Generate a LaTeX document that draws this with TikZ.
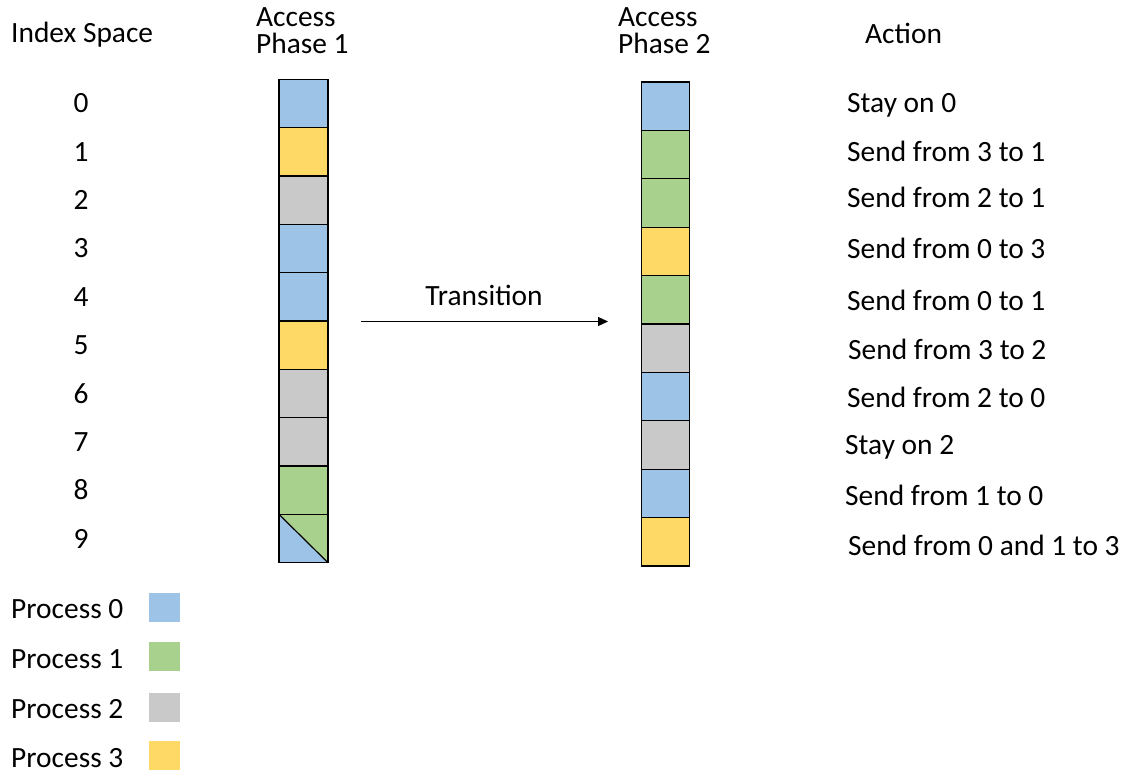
\documentclass[tikz,border=0pt]{standalone}
\usepackage{fontspec}
\setmainfont{Carlito}
\usetikzlibrary{arrows.meta}
\definecolor{pblue}{HTML}{9DC3E6}
\definecolor{pgreen}{HTML}{A9D18E}
\definecolor{pgray}{HTML}{C9C9C9}
\definecolor{pyellow}{HTML}{FFD966}
\begin{document}
\begin{tikzpicture}[x=1pt,y=-1pt,
  font=\fontsize{29.4}{27}\selectfont,
  cellA/.style={draw=black, line width=1.2pt, minimum width=49pt, minimum height=48.34pt, inner sep=0pt, outer sep=0pt},
  cellB/.style={draw=black, line width=1.2pt, minimum width=48pt, minimum height=48.4pt, inner sep=0pt, outer sep=0pt},
  legsq/.style={minimum width=31pt, minimum height=29pt, inner sep=0pt, outer sep=0pt},
  lbl/.style={anchor=base west, inner sep=0pt},
  num/.style={anchor=base, inner sep=0pt}]
\useasboundingbox (0,0) rectangle (1129,773);

% headers
\node[lbl] (idx) at (11,42.3) {Index Space};
\node[lbl] (ap1a) at (256,26.7) {Access};
\node[lbl] (ap1b) at (256,53.3) {Phase 1};
\node[lbl] (ap2a) at (618,26.7) {Access};
\node[lbl] (ap2b) at (618,53.3) {Phase 2};
\node[lbl] (act) at (865,43.3) {Action};

% index numbers
\foreach \i in {0,...,9}
  \node[num] (n\i) at (81,{112.7+48.4*\i}) {\i};

% column 1
\foreach \c [count=\i from 0] in {pblue,pyellow,pgray,pblue,pblue,pyellow,pgray,pgray,pgreen,pgreen}
  \node[cellA, fill=\c] (a\i) at (303.5,{79.3+48.34*(\i+0.5)}) {};
\fill[pblue] (a9.north west) -- (a9.south west) -- (a9.south east) -- cycle;
\draw[line width=1.2pt] (a9.north west) -- (a9.south east);
\draw[line width=1.2pt] (a9.north west) rectangle (a9.south east);

% column 2
\foreach \c [count=\i from 0] in {pblue,pgreen,pgreen,pyellow,pgreen,pgray,pblue,pgray,pblue,pyellow}
  \node[cellB, fill=\c] (b\i) at (665.7,{82+48.4*(\i+0.5)}) {};

% transition
\node[num] (tr) at (484,305) {Transition};
\coordinate (ts) at (361,321.5);
\coordinate (te) at (608,321.5);
\draw[line width=1.2pt, -{Triangle[length=10pt,width=9pt]}] (ts) -- (te);

% actions
\node[lbl] (s0) at (847,113) {Stay on 0};
\node[lbl] (s1) at (847,161) {Send from 3 to 1};
\node[lbl] (s2) at (847,207) {Send from 2 to 1};
\node[lbl] (s3) at (847,258) {Send from 0 to 3};
\node[lbl] (s4) at (847,310) {Send from 0 to 1};
\node[lbl] (s5) at (848,359) {Send from 3 to 2};
\node[lbl] (s6) at (847,407) {Send from 2 to 0};
\node[lbl] (s7) at (845,454) {Stay on 2};
\node[lbl] (s8) at (845,505) {Send from 1 to 0};
\node[lbl] (s9) at (848,555) {Send from 0 and 1 to 3};

% legend
\node[lbl] (p0) at (11,618) {Process 0};
\node[lbl] (p1) at (11,668) {Process 1};
\node[lbl] (p2) at (11,718) {Process 2};
\node[lbl] (p3) at (11,767) {Process 3};
\node[legsq, fill=pblue]   (l0) at (164.5,607.2) {};
\node[legsq, fill=pgreen]  (l1) at (164.5,656.4) {};
\node[legsq, fill=pgray]   (l2) at (164.5,707.3) {};
\node[legsq, fill=pyellow] (l3) at (164.5,755.5) {};
\end{tikzpicture}
\end{document}
